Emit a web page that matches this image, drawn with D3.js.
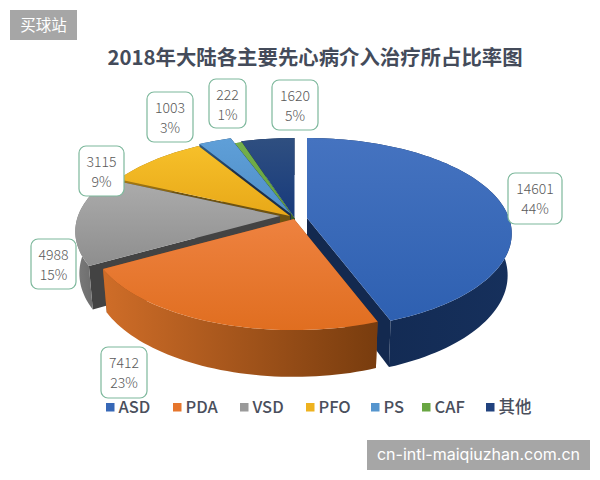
<!DOCTYPE html>
<html>
<head>
<meta charset="utf-8">
<script src="https://d3js.org/d3.v7.min.js"></script>
<style>
html,body{margin:0;padding:0;background:#fff;}
svg{display:block;}
text{font-family:"Noto Sans CJK SC","Noto Sans",sans-serif;}
</style>
</head>
<body>
<div id="chart"></div>
<script>
// Chart content
const chartTitle = "2018年大陆各主要先心病介入治疗所占比率图";
const categories = ["ASD", "PDA", "VSD", "PFO", "PS", "CAF", "其他"];
const counts = [14601, 7412, 4988, 3115, 1003, 222, 1620];
const shareLabels = ["44%", "23%", "15%", "9%", "3%", "1%", "5%"];

// Per-slice colours: top face (far, near), outer wall (left, right), cut wall
const topFar = ["#4573c0", "#ee8240", "#acacac", "#f6c02a", "#5f9fd8", "#74b04c", "#2f4f80"];
const topNear = ["#2e60b1", "#e06e20", "#8e8e8e", "#e8a818", "#4f8fc8", "#62a03c", "#173a7c"];
const sideLeft = ["#11284f", "#cf6d28", "#7c7c7c", "#a87c14", "#2f5c86", "#3f6a28", "#14284f"];
const sideRight = ["#16305c", "#783c0e", "#5c5c5c", "#7a5a10", "#1f3c5c", "#345a20", "#101f40"];
const cutWall = ["#13294f", "#8a4716", "#434343", "#6f5310", "#1c304c", "#38592a", "#101f3e"];

// Where each pulled-out slice has its tip
const tipX = [307, 294, 280, 290, 291, 295, 294.5];
const tipY = [218, 219, 216, 216, 214, 219, 218];

// Callout boxes, in slice order
const boxLeft = [508, 101, 31, 79, 147, 209, 272];
const boxTop = [173, 347, 239, 146, 92, 79, 80];
const boxWidth = [54, 46, 45, 45, 46, 37, 46];
const boxHeight = [51, 51, 50, 50, 50, 49, 50];

// Legend positions
const legendX = [106, 173, 240, 306, 371, 422, 486];

const width = 600, height = 480;
const svg = d3.select("#chart").append("svg").attr("width", width).attr("height", height);
const defs = svg.append("defs");

// Perspective view of a unit disc lying on a table
const radiusX = 202, radiusY = 93, tilt = 0.163;
const drop = 41, lowerShrink = 0.98;

function project(i, u, v, lower) {
  const w = 1 - tilt * v;
  const x = radiusX * u / w, y = radiusY * v / w;
  if (!lower) return [tipX[i] + x, tipY[i] + y];
  return [tipX[i] + x * lowerShrink, tipY[i] + y * lowerShrink + drop / w];
}

const arcs = d3.pie().sort(null).value(d => d)(counts);
const line = d3.line();

function slicePoint(i, angle, r, lower) {
  return project(i, r * Math.sin(angle), -r * Math.cos(angle), lower);
}

function rimAngles(a) {
  const n = Math.max(4, Math.ceil((a.endAngle - a.startAngle) / 0.03));
  return d3.range(n + 1).map(k => a.startAngle + (a.endAngle - a.startAngle) * k / n);
}

function gradient(id, horizontal, from, to) {
  const g = defs.append("linearGradient").attr("id", id)
    .attr("x1", 0).attr("y1", 0)
    .attr("x2", horizontal ? 1 : 0).attr("y2", horizontal ? 0 : 1);
  g.append("stop").attr("offset", "0%").attr("stop-color", from);
  g.append("stop").attr("offset", "100%").attr("stop-color", to);
}

// Far slices are painted first so nearer ones overlap them
const paintOrder = [6, 5, 4, 3, 2, 0, 1];
const pie = svg.append("g");

paintOrder.forEach(i => {
  const a = arcs[i];
  const rim = rimAngles(a);
  gradient("top" + i, false, topFar[i], topNear[i]);
  gradient("side" + i, true, sideLeft[i], sideRight[i]);
  const g = pie.append("g");

  [a.startAngle, a.endAngle].forEach(angle => {
    const wall = [
      slicePoint(i, 0, 0, false), slicePoint(i, angle, 1, false),
      slicePoint(i, angle, 1, true), slicePoint(i, 0, 0, true)
    ];
    g.append("path").attr("d", line(wall) + "Z").attr("fill", cutWall[i]);
  });

  const upper = rim.map(t => slicePoint(i, t, 1, false));
  const lowerRim = rim.map(t => slicePoint(i, t, 1, true)).reverse();
  g.append("path").attr("d", line(upper.concat(lowerRim)) + "Z").attr("fill", `url(#side${i})`);

  const top = [slicePoint(i, 0, 0, false)].concat(upper);
  g.append("path").attr("d", line(top) + "Z").attr("fill", `url(#top${i})`);
});

// Title
svg.append("text").attr("x", 315).attr("y", 65).attr("text-anchor", "middle")
  .attr("font-size", 20.4).attr("font-weight", 700).attr("fill", "#444b5a").text(chartTitle);

// Value callouts
const callouts = svg.append("g").selectAll("g").data(counts).join("g");
callouts.append("rect")
  .attr("x", (d, i) => boxLeft[i]).attr("y", (d, i) => boxTop[i])
  .attr("width", (d, i) => boxWidth[i]).attr("height", (d, i) => boxHeight[i])
  .attr("rx", 7).attr("fill", "#fff").attr("stroke", "#7db89c").attr("stroke-width", 1.2);
callouts.append("text")
  .attr("x", (d, i) => boxLeft[i] + boxWidth[i] / 2).attr("y", (d, i) => boxTop[i] + 21)
  .attr("text-anchor", "middle").attr("font-size", 14).attr("font-weight", 300).attr("fill", "#595959")
  .text(d => d);
callouts.append("text")
  .attr("x", (d, i) => boxLeft[i] + boxWidth[i] / 2).attr("y", (d, i) => boxTop[i] + 41)
  .attr("text-anchor", "middle").attr("font-size", 14).attr("font-weight", 300).attr("fill", "#595959")
  .text((d, i) => shareLabels[i]);

// Legend
const legend = svg.append("g").selectAll("g").data(categories).join("g");
legend.append("rect")
  .attr("x", (d, i) => legendX[i]).attr("y", 403).attr("width", 8.5).attr("height", 8.5)
  .attr("fill", (d, i) => d3.interpolateRgb(topFar[i], topNear[i])(0.6));
legend.append("text")
  .attr("x", (d, i) => legendX[i] + 12.5).attr("y", 413)
  .attr("font-size", 16.5).attr("font-weight", 500).attr("fill", "#4a4f5c").text(d => d);

// Site badges
svg.append("rect").attr("x", 10).attr("y", 10).attr("width", 67).attr("height", 30).attr("fill", "#a6a6a6");
svg.append("text").attr("x", 43.5).attr("y", 31).attr("text-anchor", "middle")
  .attr("font-size", 15.5).attr("fill", "#fff").text("买球站");
svg.append("rect").attr("x", 367).attr("y", 440).attr("width", 223).attr("height", 30).attr("fill", "#a6a6a6");
svg.append("text").attr("x", 478.5).attr("y", 460).attr("text-anchor", "middle")
  .attr("font-size", 16).attr("fill", "#fff")
  .style("font-family", "Inter, sans-serif").text("cn-intl-maiqiuzhan.com.cn");
</script>
</body>
</html>
